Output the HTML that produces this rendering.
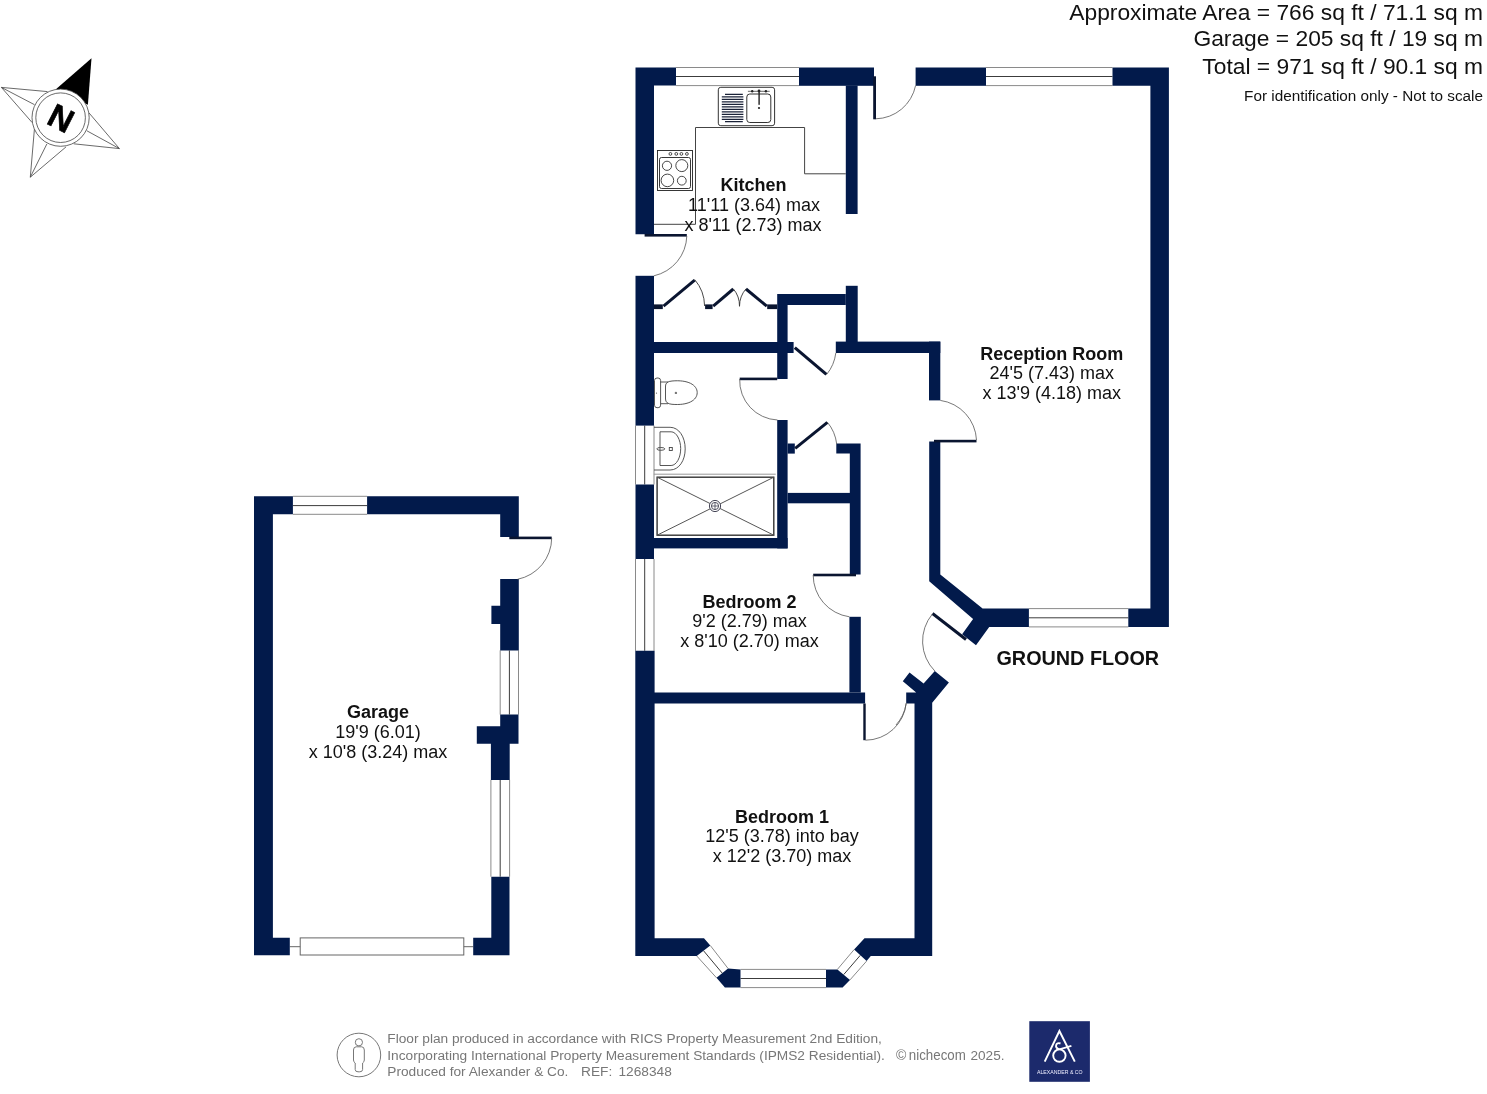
<!DOCTYPE html>
<html><head><meta charset="utf-8"><title>Floor plan</title>
<style>
html,body{margin:0;padding:0;background:#fff;width:1487px;height:1094px;overflow:hidden}
svg{display:block;will-change:transform}
text{font-family:"Liberation Sans",sans-serif}
.w{fill:#021a4b}
.ln{fill:none;stroke:#222;stroke-width:1}
.win{fill:#fff;stroke:#666;stroke-width:1.2}
.t{fill:#111;font-size:18px;text-anchor:middle}
.tb{fill:#111;font-size:18px;font-weight:bold;text-anchor:middle}
</style></head>
<body>
<svg width="1487" height="1094" viewBox="0 0 1487 1094">
<!-- HEADER -->
<g fill="#111" style="font-size:22.8px;text-anchor:end">
<text x="1483" y="19.5">Approximate Area = 766 sq ft / 71.1 sq m</text>
<text x="1483" y="46">Garage = 205 sq ft / 19 sq m</text>
<text x="1483" y="73.5">Total = 971 sq ft / 90.1 sq m</text>
</g>
<text x="1483" y="100.5" fill="#111" style="font-size:15.3px;text-anchor:end">For identification only - Not to scale</text>

<!-- WINDOWS (main house) -->
<g id="windows">
<g stroke="#8a8a8a" stroke-width="1" fill="none">
<path d="M676,67.5H799M676,85.6H799"/>
<path d="M986,67.5H1112.5M986,85.6H1112.5"/>
<path d="M1028.9,608.6H1128.3M1028.9,626.9H1128.3"/>
<path d="M635.5,425.6V484.5M654,425.6V484.5"/>
<path d="M635.5,559V650.8M654,559V650.8"/>
<path d="M740.5,969.4H826M740.5,987.6H826"/>
<path d="M710.3,945.5L728,968.4M696.7,955.9L716.5,977.8"/>
<path d="M854.1,949.6L837.4,969.4M866.6,961.1L850,979.9"/>
<path d="M292.9,496.3H367.1M292.9,514.3H367.1"/>
<path d="M500.2,650.4V714.6M518.5,650.4V714.6"/>
<path d="M490.9,779.9V876.7M509.6,779.9V876.7"/>
</g>
<g stroke="#3c3c3c" stroke-width="1" fill="none">
<path d="M676,76.5H799"/>
<path d="M986,76.5H1112.5"/>
<path d="M1028.9,617.8H1128.3"/>
<path d="M644.7,425.6V484.5"/>
<path d="M644.7,559V650.8"/>
<path d="M740.5,978.5H826"/>
<path d="M703.5,950.7L722.2,973.1"/>
<path d="M860.3,955.3L843.7,974.6"/>
<path d="M292.9,505.6H367.1"/>
<path d="M509.4,650.4V714.6"/>
<path d="M500.2,779.9V876.7"/>
</g>
<g stroke="#666" stroke-width="1" fill="none">
<rect x="300.2" y="937.9" width="163.6" height="17.1"/>
<path d="M289.8,946.7H300.2M463.8,946.7H473.2"/>
</g>
</g>

<!-- WALLS -->
<g id="walls" class="w">
<!-- kitchen / top -->
<path d="M635.5,67.5H676V85.5H654V234.3H635.5Z"/>
<rect x="799" y="67.5" width="75" height="18.3"/>
<rect x="915.6" y="67.5" width="70.4" height="18.3"/>
<path d="M1112.5,67.5H1168.9V626.9H1128.3V608.6H1150.4V85.8H1112.5Z"/>
<rect x="845.8" y="85.5" width="11.8" height="128.5"/>
<!-- left wall lower -->
<rect x="635.5" y="275.8" width="18.5" height="149.8"/>
<rect x="635.5" y="484.5" width="18.5" height="74.5"/>
<path d="M635.3,650.8H654.6V938.2H704L710.3,945.5L696.7,955.9H635.3Z"/>
<!-- closet & bathroom -->
<rect x="654" y="342" width="139.6" height="11"/>
<path d="M777.2,294H845.8V305H787.6V379H777.2Z"/>
<rect x="845.8" y="285.8" width="11.9" height="67.2"/>
<rect x="835.8" y="341.6" width="104.5" height="11.4"/>
<rect x="929" y="341.6" width="11.3" height="58.8"/>
<rect x="777.2" y="420" width="10.4" height="128.4"/>
<rect x="654" y="538" width="133.6" height="10.4"/>
<rect x="787.6" y="443.5" width="7.2" height="10.1"/>
<path d="M836.3,443.4H860.6V574.6H849.8V453.6H836.3Z"/>
<rect x="787.6" y="492.9" width="62.4" height="10.4"/>
<!-- bed2 -->
<rect x="849.4" y="616.8" width="11.4" height="75.7"/>
<rect x="654" y="692.5" width="211.1" height="11"/>
<!-- reception left + diagonal -->
<path d="M929.2,441.6H940.3V574.6L982.6,608.6H1028.9V626.9H989.2L976,645.3L962.1,634.3L973.1,619L929.2,581.2Z"/>
<!-- bedroom1 right + Y piece -->
<path d="M914.5,703.6H906.2V692.4H916.2L902.8,681.2L909.5,672.6L923.6,683.5L934.8,671L948.9,682.5L932.2,702.7V955.9H870.8L866.6,961.1L854.1,949.6L864.5,938.2H914.5Z"/>
<!-- bay corners -->
<path d="M728,968.4L740.5,969.4V987.6H724.9L716.5,977.8Z"/>
<path d="M826,969.4H837.4L850,979.9L842.6,987.6H826Z"/>
<!-- garage -->
<path d="M254,496.3H292.9V514.3H272.9V937.7H289.8V955.2H254Z"/>
<path d="M367.1,496.3H518.8V537.1H500.2V514.3H367.1Z"/>
<path d="M500.2,579.1H518.8V650.4H500.2V624H491.4V605.7H500.2Z"/>
<path d="M500.2,714.6H518.5V743.8H509.7V779.9H490.9V743.8H476.8V726.3H500.2Z"/>
<path d="M491.3,876.7H509.5V955.2H473.2V937.7H491.3Z"/>
</g>

<!-- DOORS / FIXTURES -->
<g id="doors">
<g fill="#0a1530">
<rect x="873.2" y="76.3" width="2.8" height="43"/>
<rect x="644.6" y="234" width="42.2" height="2.6"/>
<rect x="739.7" y="377.6" width="37.5" height="2.6"/>
<rect x="934" y="439.8" width="42.5" height="2.6"/>
<rect x="509.3" y="536.6" width="42.4" height="2.6"/>
<rect x="813.2" y="573.7" width="42.8" height="2.6"/>
<rect x="863.3" y="703.5" width="2.4" height="36.7"/>
<path d="M794.8,347.6L826.4,374.4" stroke="#0a1530" stroke-width="3.1"/>
<path d="M795.2,448.4L827.4,422.4" stroke="#0a1530" stroke-width="3"/>
<path d="M932.5,613.5L966,639.5" stroke="#0a1530" stroke-width="3"/>
</g>
<g fill="none" stroke="#555" stroke-width="0.8">
<path d="M875.8,118.8A41.5,41.5 0 0 0 915.6,85.5"/>
<path d="M686.8,236A42,42 0 0 1 654,275.8"/>
<path d="M739.7,379A39.5,39.5 0 0 0 777.5,420"/>
<path d="M940.3,400.4A42,42 0 0 1 976.5,440"/>
<path d="M551.7,538A42.4,42.4 0 0 1 517.5,579.3"/>
<path d="M813.2,575A42,42 0 0 0 849.4,616.8"/>
<path d="M865.5,740.2A41,41 0 0 0 906.2,703"/>
<path d="M827.2,422A42,42 0 0 1 836.7,444"/>
<path d="M826.6,374.5A42,42 0 0 0 835.8,353"/>
<path d="M932.4,614A42.5,42.5 0 0 0 934.8,671"/>
<path d="M906.2,703.6A42,42 0 0 1 896,725"/>
</g>
</g>


<!-- bi-fold closet doors -->
<g fill="#0a1530">
<rect x="653.8" y="304.4" width="9" height="4.7"/>
<rect x="705.1" y="304.4" width="7.5" height="4.7"/>
<rect x="767.2" y="304.4" width="10" height="4.7"/>
</g>
<g stroke="#0a1530" stroke-width="3" fill="none">
<path d="M663.5,306.2L694.7,280.2"/>
<path d="M713.2,306.2L733.3,289"/>
<path d="M746,289L766.8,306.2"/>
</g>
<g fill="none" stroke="#333" stroke-width="0.9">
<path d="M694.7,279.6A41.7,41.7 0 0 1 704.6,306"/>
<path d="M733.3,288.8A26.5,26.5 0 0 1 739.5,306.3"/>
<path d="M739.5,306.3A27,27 0 0 1 746,288.8"/>
</g>
<!-- kitchen counters -->
<g fill="none" stroke="#444" stroke-width="1">
<path d="M654,224.3H695.5V127.5H804.6V173.8H845.8"/>
</g>
<!-- sink -->
<g fill="none" stroke="#333" stroke-width="1">
<rect x="718.3" y="87.3" width="56.3" height="38.4" rx="2.5"/>
<rect x="746.8" y="94" width="24" height="28.5" rx="3"/>
<path d="M747.9,91.3H769.7" stroke="#666"/>
</g>
<g stroke="#1a2238" stroke-width="1.3">
<path d="M725,94.3H742.8M721.8,96.8H743.4M721.8,99.3H743.4M721.8,101.8H743.4M721.8,104.3H743.4M721.8,106.8H743.4M721.8,109.3H743.4M721.8,111.8H743.4M721.8,114.3H743.4M721.8,116.8H743.4M721.8,119.3H743.4M725,121.7H742.8"/>
</g>
<g fill="#222">
<rect x="758.4" y="90.8" width="1.4" height="14"/>
<circle cx="759" cy="108" r="1.1"/>
<circle cx="752.2" cy="91.2" r="1.2"/>
<circle cx="759" cy="91" r="1.4"/>
<circle cx="765.9" cy="91.2" r="1.2"/>
</g>
<!-- hob -->
<g fill="none" stroke="#333" stroke-width="0.9">
<rect x="657.5" y="150.5" width="35" height="40" stroke="#222"/>
<rect x="659.5" y="157.5" width="31" height="31" rx="2" stroke="#222"/>
<circle cx="670.4" cy="153.9" r="1.4"/>
<circle cx="676.3" cy="153.9" r="1.4"/>
<circle cx="681.4" cy="153.9" r="1.4"/>
<circle cx="686.9" cy="153.9" r="1.4"/>
<circle cx="667" cy="165.8" r="4.6"/>
<circle cx="681.8" cy="165.6" r="6"/>
<circle cx="667.4" cy="180.4" r="6.3"/>
<circle cx="681.8" cy="180.7" r="4.4"/>
</g>
<!-- toilet -->
<g fill="none" stroke="#444" stroke-width="0.9">
<rect x="654.5" y="378" width="6.1" height="29.7" rx="2.5"/>
<path d="M660.6,382H668M660.6,403.7H668"/>
<path d="M665.5,386Q665.5,381.5 672,381C688,379.5 697.2,385 697.2,392.6C697.2,400.3 688,405.7 672,404.3Q665.5,403.8 665.5,399Z"/>
</g>
<circle cx="675.9" cy="392.9" r="1.2" fill="#777"/>
<circle cx="656.5" cy="393.1" r="0.6" fill="#555"/>
<!-- basin -->
<g fill="none" stroke="#444" stroke-width="0.9">
<path d="M654,427.3H670.1C679,427.3 685.2,437 685.2,448.9C685.2,460.5 679,470 670.1,470H654"/>
<path d="M660,431.8H671.1C676.5,431.8 680.7,440 680.7,448.6C680.7,457.5 676.5,465.5 671.1,465.5H660V431.8"/>
<ellipse cx="660.8" cy="448.9" rx="4" ry="1.4"/>
<rect x="669.3" y="447.5" width="3" height="3"/>
</g>
<!-- shower -->
<path d="M653.8,474.2H775.7" stroke="#999" stroke-width="1" fill="none"/>
<g fill="none" stroke="#333" stroke-width="1">
<rect x="657.1" y="477.2" width="116.7" height="58" stroke-width="1.4"/>
<path d="M657.1,477.2L773.8,535.2M773.8,477.2L657.1,535.2" stroke="#555"/>
</g>
<circle cx="715" cy="506" r="5.6" fill="#fff" stroke="#445" stroke-width="1"/>
<circle cx="715" cy="506" r="3.6" fill="none" stroke="#445" stroke-width="0.9"/>
<path d="M715,502.5V509.5M711.5,506H718.5" stroke="#445" stroke-width="0.8"/>

<!-- compass -->
<g id="compass">
<g fill="none" stroke="#444" stroke-width="0.8">
<path d="M1.4,87.4L47.5,91.6M1.4,87.4L34.5,104.7M1.4,87.4L32.1,122.5"/>
<path d="M119.4,148.6L73.7,143.8M119.4,148.6L86.7,130.7M119.4,148.6L89,112.9"/>
<path d="M30.3,177.2L34.5,128M30.3,177.2L46.9,143.9M30.3,177.2L66,146.9"/>
</g>
<path d="M91.5,58.3L55.9,89.2L87.9,104.7Z" fill="#000"/>
<circle cx="60.6" cy="117.7" r="28.6" fill="#fff" stroke="#444" stroke-width="0.8"/>
<circle cx="60.6" cy="117.7" r="24.8" fill="none" stroke="#444" stroke-width="0.8"/>
<text x="0" y="0" transform="translate(61.4,117.8) rotate(27)" style="font-size:33px;font-weight:bold;text-anchor:middle" dy="11.9" fill="#000" stroke="#000" stroke-width="0.6">N</text>
</g>

<!-- LABELS -->
<g id="labels">
<text class="tb" x="753.5" y="190.7">Kitchen</text>
<text class="t" x="754" y="211.2">11'11 (3.64) max</text>
<text class="t" x="753" y="230.5">x 8'11 (2.73) max</text>

<text class="tb" x="1051.7" y="359.6">Reception Room</text>
<text class="t" x="1051.7" y="379.2">24'5 (7.43) max</text>
<text class="t" x="1051.7" y="398.7">x 13'9 (4.18) max</text>

<text class="tb" x="749.5" y="607.8">Bedroom 2</text>
<text class="t" x="749.5" y="626.7">9'2 (2.79) max</text>
<text class="t" x="749.5" y="646.9">x 8'10 (2.70) max</text>

<text class="tb" x="782" y="822.8">Bedroom 1</text>
<text class="t" x="782" y="841.8">12'5 (3.78) into bay</text>
<text class="t" x="782" y="861.9">x 12'2 (3.70) max</text>

<text class="tb" x="378" y="717.6">Garage</text>
<text class="t" x="378" y="737.5">19'9 (6.01)</text>
<text class="t" x="378" y="758.3">x 10'8 (3.24) max</text>

<text x="1077.8" y="664.9" fill="#111" style="font-size:19.8px;font-weight:bold;text-anchor:middle">GROUND FLOOR</text>
</g>

<!-- FOOTER -->

<g fill="none" stroke="#777" stroke-width="1">
<circle cx="358.9" cy="1055" r="21.8"/>
<circle cx="358.9" cy="1042.3" r="3.6"/>
<path d="M356.2,1046.8H361.6Q364.3,1046.8 364.3,1050V1060Q364.3,1062 362.6,1063V1069.5Q362.6,1071.8 359.8,1071.8H358Q355.2,1071.8 355.2,1069.5V1063Q353.5,1062 353.5,1060V1050Q353.5,1046.8 356.2,1046.8Z"/>
</g>
<rect x="1029.3" y="1021.2" width="60.6" height="60.6" fill="#1c2a6c"/>
<g fill="none" stroke="#fff" stroke-width="1.9">
<path d="M1044.7,1061.6L1059.4,1031L1074.8,1061.6"/>
<circle cx="1059.4" cy="1055.6" r="6.2"/>
<path d="M1059,1049.4C1054,1047 1056,1041.8 1060.5,1043.5M1059.4,1049.4L1071.4,1045.8"/>
</g>
<text x="1059.8" y="1074" fill="#eef" style="font-size:5.2px;text-anchor:middle">ALEXANDER &amp; CO</text>
<text x="896" y="1060" fill="#777" style="font-size:14px">©</text>
<text x="908.8" y="1060" fill="#777" style="font-size:14px" textLength="57" lengthAdjust="spacingAndGlyphs">nichecom</text>
<text x="970.5" y="1060" fill="#777" style="font-size:13.6px">2025.</text>
<g id="footer" fill="#777" style="font-size:13.7px">
<text x="387.3" y="1043">Floor plan produced in accordance with RICS Property Measurement 2nd Edition,</text>
<text x="387.3" y="1059.5">Incorporating International Property Measurement Standards (IPMS2 Residential).</text>
<text x="387.3" y="1076">Produced for Alexander &amp; Co.</text><text x="581" y="1076">REF:</text><text x="618.5" y="1076">1268348</text>
</g>
</svg>
</body></html>
